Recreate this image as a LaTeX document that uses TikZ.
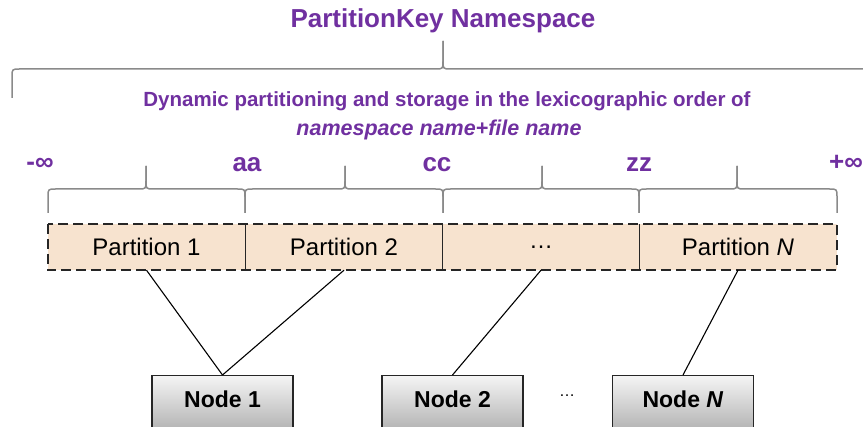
\documentclass[tikz,border=0pt]{standalone}
\usepackage{fontspec}
\setmainfont{Liberation Sans}
\definecolor{kpurple}{HTML}{7030A0}
\definecolor{kpeach}{HTML}{F7E3CF}
\definecolor{kbrace}{HTML}{8A8A8A}
\newcommand\kbrace[6]{% x1, xm, x2, ybottom, yline, ytip
  \draw[bracestyle] (#1,#4) -- (#1,#5+8) .. controls (#1,#5) .. (#1+8,#5) -- (#2-8,#5) .. controls (#2,#5) .. (#2,#5-8) -- (#2,#6);
  \draw[bracestyle] (#2,#6) -- (#2,#5-8) .. controls (#2,#5) .. (#2+8,#5) -- (#3-8,#5) .. controls (#3,#5) .. (#3,#5+8) -- (#3,#4);
}
\begin{document}
\begin{tikzpicture}[x=1pt,y=-1pt,
  bracestyle/.style={draw=kbrace, line width=1.5pt, line join=round},
  purplelabel/.style={text=kpurple, font=\bfseries\fontsize{26}{30}\selectfont, inner sep=0pt, anchor=base},
  partbox/.style={fill=kpeach, draw=none, minimum width=197pt, minimum height=46pt, inner sep=0pt, font=\fontsize{24}{28}\selectfont},
  nodebox/.style={draw=black!85, line width=1.2pt, top color=black!4, bottom color=black!42, minimum width=141pt, inner xsep=0pt, inner ysep=8pt, text height=24pt, text depth=40pt, anchor=north, font=\bfseries\fontsize{23}{27}\selectfont},
  link/.style={draw=black, line width=1.1pt}]
\useasboundingbox (0,0) rectangle (863,427);
\clip (0,0) rectangle (863,427);

% title
\node[text=kpurple, font=\bfseries\fontsize{26}{30}\selectfont] (title) at (443,21) {PartitionKey Namespace};
\kbrace{12}{443}{880}{98}{69}{41}
\node[text=kpurple, font=\bfseries\fontsize{20.5}{24}\selectfont] (sub1) at (447,101) {Dynamic partitioning and storage in the lexicographic order of};
\node[text=kpurple, font=\bfseries\itshape\fontsize{21.5}{25}\selectfont] (sub2) at (439,130) {namespace name+file name};

% boundary labels
\node[purplelabel] (minf) at (40,171) {-∞};
\node[purplelabel] (laa) at (247,172) {aa};
\node[purplelabel] (lcc) at (437,172) {cc};
\node[purplelabel] (lzz) at (639,172) {zz};
\node[purplelabel, anchor=base west] (pinf) at (829,171) {+∞};

% small braces
\kbrace{48}{146}{245}{213}{189}{166}
\kbrace{245}{345}{443}{213}{189}{166}
\kbrace{443}{542}{639}{213}{189}{166}
\kbrace{639}{737}{837}{213}{189}{166}

% partitions
\node[partbox] (p1) at (146.5,247) {Partition 1};
\node[partbox] (p2) at (344,247) {Partition 2};
\node[partbox] (p3) at (541,247) {\dots};
\node[partbox] (p4) at (738,247) {Partition \textit{N}};
\draw[black!85, line width=1.8pt, dash pattern=on 10pt off 5pt] (p1.north west) rectangle (p4.south east);
\draw[black!85, line width=1.2pt] (p1.north east) -- (p1.south east);
\draw[black!85, line width=1.2pt] (p2.north east) -- (p2.south east);
\draw[black!85, line width=1.2pt] (p3.north east) -- (p3.south east);

% nodes
\node[nodebox] (n1) at (222.5,375) {Node 1};
\node[nodebox] (n2) at (452.5,375) {Node 2};
\node[nodebox] (n3) at (683,375) {Node \textit{N}};
\node[font=\fontsize{16}{20}\selectfont] (ndots) at (567,396) {\dots};

% links
\draw[link] (p1.south) -- (n1.north);
\draw[link] (p2.south) -- (n1.north);
\draw[link] (p3.south) -- (n2.north);
\draw[link] (p4.south) -- (n3.north);
\end{tikzpicture}
\end{document}
